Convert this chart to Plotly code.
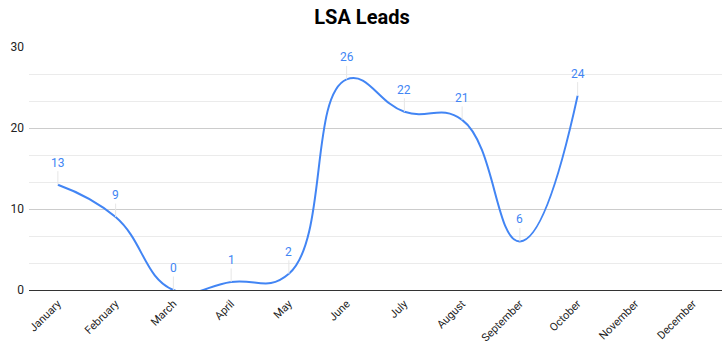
import plotly.graph_objects as go

months = ["January", "February", "March", "April", "May", "June", "July",
          "August", "September", "October", "November", "December"]
leads = [13, 9, 0, 1, 2, 26, 22, 21, 6, 24, None, None]
y_ticks = [0, 10, 20, 30]

blue = "#4285F4"
fig = go.Figure()
fig.add_trace(go.Scatter(
    x=months, y=leads, mode="lines",
    line=dict(color=blue, width=2, shape="spline", smoothing=1.3),
    connectgaps=False, hoverinfo="x+y",
))

for m, v in zip(months, leads):
    if v is None:
        continue
    fig.add_annotation(
        x=m, y=v, text=str(v), showarrow=True, arrowhead=0,
        arrowcolor="#e6e6e6", arrowwidth=1, ax=0, ay=-22,
        font=dict(family="Roboto", size=12, color=blue),
    )

fig.update_layout(
    width=724, height=344,
    margin=dict(l=29, r=2, t=47, b=54),
    paper_bgcolor="white", plot_bgcolor="white",
    showlegend=False,
    title=dict(text="<b>LSA Leads</b>", x=0.5, xanchor="center", y=0.95,
               yanchor="middle",
               font=dict(family="Roboto", size=20, color="#000")),
    font=dict(family="Roboto", size=12, color="#222"),
)
fig.update_xaxes(
    type="category", range=[-0.5, 11.5], tickangle=-45, automargin=False,
    showgrid=False, showline=True, linecolor="#333", linewidth=1,
    tickfont=dict(family="Roboto", size=11, color="#222"),
    ticks="", ticklabelstandoff=2,
)
fig.update_yaxes(
    range=[0, 30], tickvals=y_ticks, showgrid=True, gridcolor="#cccccc",
    zeroline=True, zerolinecolor="#333", zerolinewidth=1, automargin=False,
    minor=dict(dtick=10/3, showgrid=True, gridcolor="#ebebeb", ticks=""),
    tickfont=dict(family="Roboto", size=12, color="#222"),
    ticks="", ticklabelstandoff=4,
)

fig.write_html("out.html")
